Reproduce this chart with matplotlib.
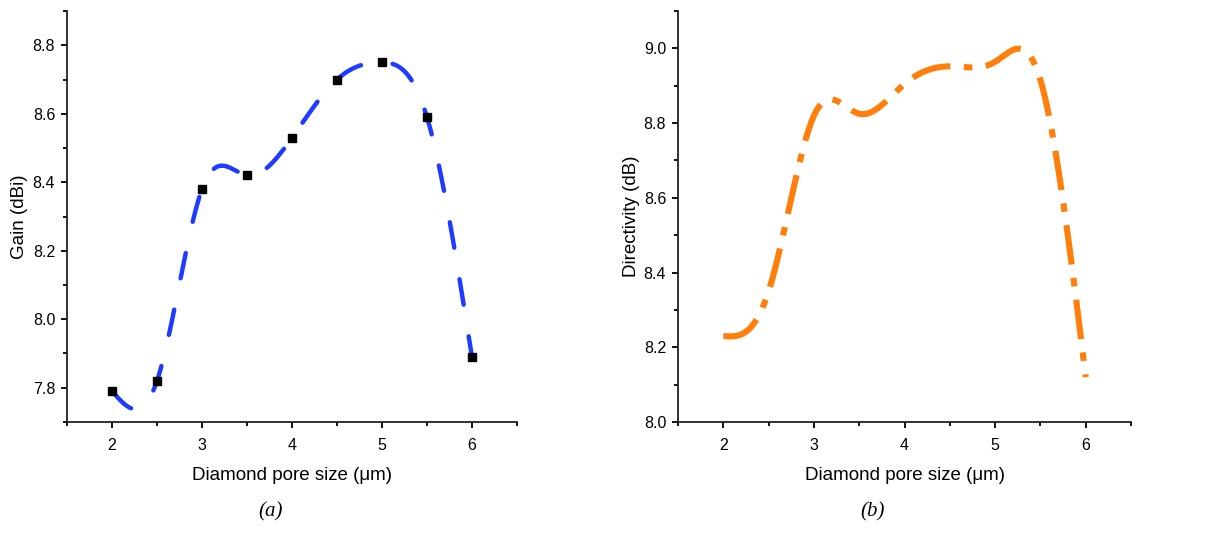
import numpy as np
import matplotlib
matplotlib.use("Agg")
import matplotlib.pyplot as plt
from matplotlib.ticker import MultipleLocator

plt.rcParams["font.family"] = ["Liberation Sans", "DejaVu Sans"]

# data
pore_size = [2.0, 2.5, 3.0, 3.5, 4.0, 4.5, 5.0, 5.5, 6.0]
gain_dbi = [7.79, 7.82, 8.38, 8.42, 8.53, 8.70, 8.75, 8.59, 7.89]
directivity_db = [8.23, 8.35, 8.82, 8.825, 8.905, 8.952, 8.964, 8.915, 8.12]


def natural_spline(x, y, n=400):
    # smooth connecting line through the points (like Origin's spline connect)
    x = np.asarray(x, float)
    y = np.asarray(y, float)
    k = len(x)
    h = np.diff(x)
    A = np.zeros((k, k))
    b = np.zeros(k)
    A[0, 0] = A[-1, -1] = 1
    for i in range(1, k - 1):
        A[i, i - 1] = h[i - 1]
        A[i, i] = 2 * (h[i - 1] + h[i])
        A[i, i + 1] = h[i]
        b[i] = 6 * ((y[i + 1] - y[i]) / h[i] - (y[i] - y[i - 1]) / h[i - 1])
    m = np.linalg.solve(A, b)
    xs = np.linspace(x[0], x[-1], n)
    idx = np.clip(np.searchsorted(x, xs) - 1, 0, k - 2)
    x0, x1 = x[idx], x[idx + 1]
    hh = x1 - x0
    t0, t1 = x1 - xs, xs - x0
    ys = (m[idx] * t0**3 + m[idx + 1] * t1**3) / (6 * hh) \
        + (y[idx] / hh - m[idx] * hh / 6) * t0 \
        + (y[idx + 1] / hh - m[idx + 1] * hh / 6) * t1
    return xs, ys


fig = plt.figure(figsize=(12.23, 5.45), dpi=100)
ax1 = fig.add_axes([0.0548, 0.2257, 0.3679, 0.7541])
ax2 = fig.add_axes([0.5544, 0.2257, 0.3704, 0.7541])


def style(ax):
    for s in ["top", "right"]:
        ax.spines[s].set_visible(False)
    for s in ["left", "bottom"]:
        ax.spines[s].set_linewidth(1.3)
        ax.spines[s].set_color("#222222")
    ax.tick_params(which="major", direction="out", length=4.5, width=1.3, labelsize=11.5)
    ax.tick_params(which="minor", direction="out", length=3, width=1.3)
    ax.tick_params(axis="x", which="major", pad=7.3)
    ax.tick_params(axis="y", which="major", pad=4)
    ax.xaxis.set_major_locator(MultipleLocator(1))
    ax.xaxis.set_minor_locator(MultipleLocator(0.5))
    ax.yaxis.set_major_locator(MultipleLocator(0.2))
    ax.yaxis.set_minor_locator(MultipleLocator(0.1))
    ax.set_xlim(1.5, 6.5)
    ax.set_xlabel("Diamond pore size (μm)", fontsize=13.5, labelpad=10)


# (a) gain
xs, ys = natural_spline(pore_size, gain_dbi)
line, = ax1.plot(xs, ys, color="#1f3bff", lw=3.2, dash_capstyle="round")
line.set_dashes((5.8, 7.2))
ax1.plot(pore_size, gain_dbi, "s", color="black", ms=6)
style(ax1)
ax1.set_ylim(7.7, 8.9)
ax1.set_ylabel("Gain (dBi)", fontsize=13.5)
ax1.yaxis.set_label_coords(-0.086, 0.5)

# (b) directivity
xs, ys = natural_spline(pore_size, directivity_db)
line, = ax2.plot(xs, ys, color="#ff7f0a", lw=4.4, dash_capstyle="butt")
line.set_dashes((6.5, 2.2, 1.4, 2.2))
style(ax2)
ax2.set_ylim(8.0, 9.1)
ax2.set_ylabel("Directivity (dB)", fontsize=13.5)
ax2.yaxis.set_label_coords(-0.084, 0.5)

fig.text(0.2208, 0.052, "(a)", fontsize=15, style="italic",
         family=["Liberation Serif", "DejaVu Serif"], ha="center")
fig.text(0.7138, 0.052, "(b)", fontsize=15, style="italic",
         family=["Liberation Serif", "DejaVu Serif"], ha="center")

fig.savefig("out.png", dpi=100)
